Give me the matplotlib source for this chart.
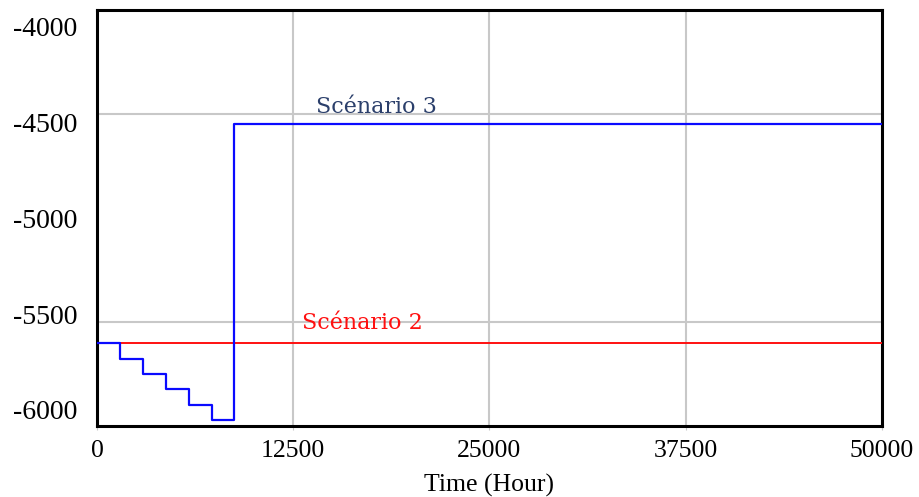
import numpy as np
import matplotlib
matplotlib.use("Agg")
import matplotlib.pyplot as plt

# Data
time_s3 = [0, 1460, 2920, 4380, 5840, 7300, 8760, 50000]
value_s3 = [-5600, -5674, -5748, -5822, -5896, -5970, -4547, -4547]
time_s2 = [0, 50000]
value_s2 = [-5600, -5600]

x_ticks = [0, 12500, 25000, 37500, 50000]
y_labels = ["-4000", "-4500", "-5000", "-5500", "-6000"]
y_grid = [-4500, -5000, -5500]

plt.rcParams["font.family"] = ["Liberation Serif", "DejaVu Serif"]

fig = plt.figure(figsize=(9.19, 4.97), dpi=100)
ax = fig.add_axes([0.1055, 0.1419, 0.8539, 0.838])

ax.plot(time_s2, value_s2, color="#ff1010", linewidth=1.4, zorder=3)
ax.step(time_s3, value_s3, where="post", color="#0a0aff", linewidth=1.6, zorder=4)

ax.set_xlim(0, 50000)
ax.set_ylim(-6000, -4000)

# x axis: labels line up with gridlines
ax.set_xticks(x_ticks)
ax.set_xticklabels([str(t) for t in x_ticks], fontsize=18.5)
ax.tick_params(axis="x", length=3, color="#c8c8c8", pad=7)

# y axis: labels spread evenly inside the frame, gridlines split it in four
inset = 80
ax.set_yticks(np.linspace(-4000 - inset, -6000 + inset, 5))
ax.set_yticklabels(y_labels, fontsize=20)
ax.tick_params(axis="y", length=0, pad=14)
ax.set_yticks(y_grid, minor=True)
ax.tick_params(axis="y", which="minor", length=0)

ax.grid(axis="x", which="major", color="#c8c8c8", linewidth=1.5, zorder=0)
ax.grid(axis="y", which="minor", color="#c8c8c8", linewidth=1.5, zorder=0)
ax.set_axisbelow(True)

for s in ax.spines.values():
    s.set_linewidth(2.2)
    s.set_color("black")

ax.set_xlabel("Time (Hour)", fontsize=18.5, labelpad=8)

ax.text(13954, -4466, "Scénario 3", color="#2b3f6b", fontsize=16,
        va="center", ha="left", family=["DejaVu Serif"])
ax.text(13062, -5503, "Scénario 2", color="#ff1010", fontsize=16,
        va="center", ha="left", family=["DejaVu Serif"])

fig.savefig("out.png", dpi=100)
